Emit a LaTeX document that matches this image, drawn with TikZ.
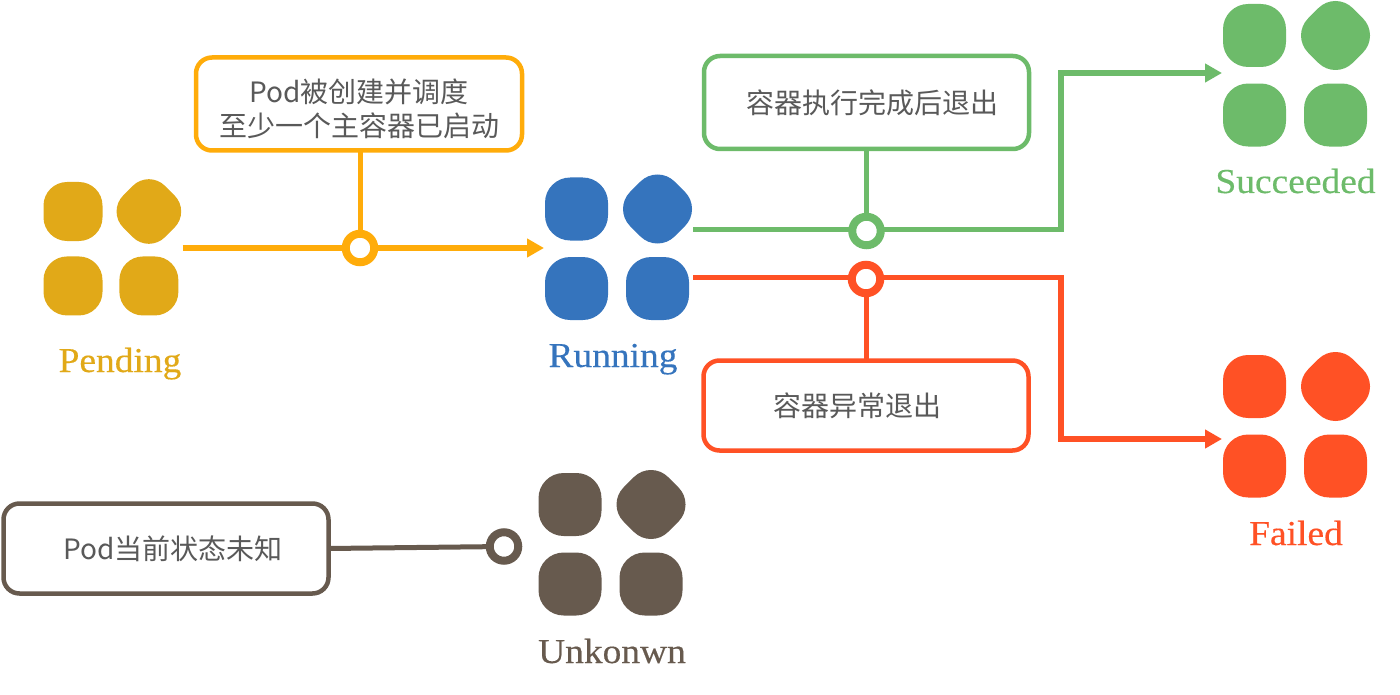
\documentclass[tikz,border=0pt]{standalone}
\usepackage{fontspec}
\setmainfont[FakeStretch=1.07,FakeBold=0.35]{Liberation Serif}
\newfontfamily\cjk{Noto Sans CJK SC}
\usetikzlibrary{arrows.meta,calc}
\definecolor{pendingtile}{HTML}{E1A918}
\definecolor{pendingline}{HTML}{FFAC0A}
\definecolor{runblue}{HTML}{3574BD}
\definecolor{okgreen}{HTML}{6DBB6A}
\definecolor{failred}{HTML}{FF5125}
\definecolor{unkbrown}{HTML}{675A4E}
\definecolor{notetext}{HTML}{595959}
\tikzset{
  tile/.style={fill=#1,inner sep=0pt,outer sep=0pt},
  flow/.style={line width=5.6pt,-{Triangle[length=17pt,width=18pt]}},
  link/.style={line width=5pt},
  knot/.style={circle,draw=#1,fill=white,line width=8pt,minimum size=28.5pt,inner sep=0pt,outer sep=0pt},
  note/.style={draw=#1,fill=white,line width=4.5pt,rounded corners=16pt,inner sep=0pt,outer sep=0pt},
  notetxt/.style={align=center,inner sep=0pt,font=\cjk\fontsize{28}{33.5}\selectfont,text=notetext},
  state/.style={font=\fontsize{35}{40}\selectfont,anchor=base,text=#1,inner sep=0pt},
}
% Four-tile pod icon: name, left edge, top edge, tile side, colour
\newcommand{\podicon}[5]{%
  \pgfmathsetmacro{\tileR}{0.4*#4}
  \pgfmathsetmacro{\diaR}{0.385*#4}
  \pgfmathsetmacro{\colA}{#2+0.5*#4}
  \pgfmathsetmacro{\colB}{#2+0.5*#4+1.286*#4}
  \pgfmathsetmacro{\rowA}{#3+0.5*#4}
  \pgfmathsetmacro{\rowB}{#3+0.5*#4+1.262*#4}
  \pgfmathsetmacro{\boxW}{1.286*#4+1.095*#4*0.5+0.5*#4}
  \pgfmathsetmacro{\boxH}{1.262*#4+0.5*#4+1.095*#4*0.5}
  \node[tile=#5,minimum size=#4pt,rounded corners=\tileR pt] (#1-a) at (\colA,\rowA) {};
  \node[tile=#5,minimum size=#4pt,rounded corners=\diaR pt,rotate=45] (#1-b) at (\colB,\rowA) {};
  \node[tile=#5,minimum size=#4pt,rounded corners=\tileR pt] (#1-c) at (\colA,\rowB) {};
  \node[tile=#5,minimum size=#4pt,rounded corners=\tileR pt] (#1-d) at (\colB,\rowB) {};
  \node[minimum width=\boxW pt,minimum height=\boxH pt,inner sep=0pt,outer sep=0pt,anchor=north west]
    (#1) at (#2,#3-0.0475*#4) {};
}
\begin{document}
\begin{tikzpicture}[x=1pt,y=-1pt]
  \useasboundingbox (0,0) rectangle (1400,695);

  % state icons
  \podicon{pending}{43.5}{182}{59}{pendingtile}
  \podicon{running}{545}{177.5}{63}{runblue}
  \podicon{succeeded}{1223}{4}{63}{okgreen}
  \podicon{failed}{1223}{355}{63}{failred}
  \podicon{unknown}{538.5}{473}{63}{unkbrown}

  % state names
  \node[state=pendingtile] (lpending) at (120,372) {Pending};
  \node[state=runblue] (lrunning) at (613,367) {Running};
  \node[state=okgreen] (lsucceeded) at (1295.5,193) {Succeeded};
  \node[state=failred] (lfailed) at (1296,545) {Failed};
  \node[state=unkbrown] (lunknown) at (612,663) {Unkonwn};

  % note frames
  \node[note=pendingline,minimum width=326pt,minimum height=93pt] (npending) at (359,104) {};
  \node[note=okgreen,minimum width=325pt,minimum height=93pt] (nsucceeded) at (866.5,102.5) {};
  \node[note=failred,minimum width=325pt,minimum height=90pt] (nfailed) at (866,405.5) {};
  \node[note=unkbrown,minimum width=325pt,minimum height=90pt] (nunknown) at (166,548.5) {};

  % note wording
  \node[notetxt] (tpending) at (359,108.8) {Pod被创建并调度\\至少一个主容器已启动};
  \node[notetxt] (tsucceeded) at (872,103) {容器执行完成后退出};
  \node[notetxt] (tfailed) at (857,405.5) {容器异常退出};
  \node[notetxt] (tunknown) at (173,548.5) {Pod当前状态未知};

  % junction markers
  \coordinate (ppoint) at (360,248);
  \coordinate (gpoint) at (866.5,231);
  \coordinate (rpoint) at (866,279);
  \coordinate (upoint) at (504,546.5);

  % transitions
  \draw[flow,pendingline,shorten >=1pt] ([xshift=1.5pt]pending.east |- ppoint) -- (running.west |- ppoint);
  \coordinate (gturn) at (1061,229.5);
  \coordinate (rturn) at (1061,277.5);
  \draw[flow,okgreen,shorten >=1pt] (693,229.5) -| (gturn) |- (succeeded.west |- 0,73);
  \draw[flow,failred,shorten >=1pt] (693,277.5) -| (rturn) |- (failed.west |- 0,439);

  % stems from notes to markers
  \draw[link,pendingline] (npending.south -| ppoint) -- (ppoint);
  \draw[link,okgreen] (nsucceeded.south -| gpoint) -- (gpoint);
  \draw[link,failred] (nfailed.north -| rpoint) -- (rpoint);
  \draw[link,unkbrown] (nunknown.east) -- (upoint);

  \node[knot=pendingline] (kpending) at (ppoint) {};
  \node[knot=okgreen] (ksucceeded) at (gpoint) {};
  \node[knot=failred] (kfailed) at (rpoint) {};
  \node[knot=unkbrown] (kunknown) at (upoint) {};
\end{tikzpicture}
\end{document}
